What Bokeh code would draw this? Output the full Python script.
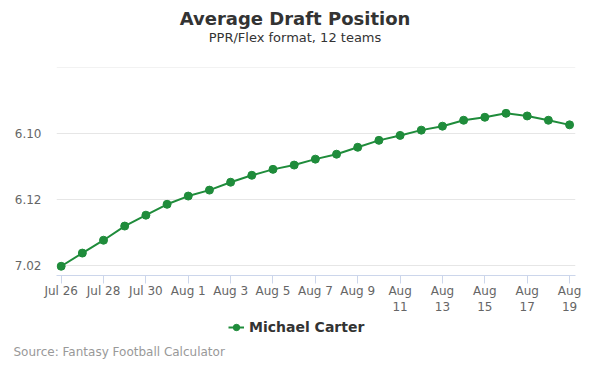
from bokeh.plotting import figure
from bokeh.models import (Range1d, FixedTicker, Label, Legend, LegendItem, ColumnDataSource, Title)
from bokeh.layouts import column
from bokeh.embed import file_html
from bokeh.resources import INLINE

# Data
dates = ["Jul 26", "Jul 27", "Jul 28", "Jul 29", "Jul 30", "Jul 31", "Aug 1", "Aug 2",
         "Aug 3", "Aug 4", "Aug 5", "Aug 6", "Aug 7", "Aug 8", "Aug 9", "Aug 10",
         "Aug 11", "Aug 12", "Aug 13", "Aug 14", "Aug 15", "Aug 16", "Aug 17", "Aug 18", "Aug 19"]
adp = [74.02, 73.62, 73.23, 72.80, 72.47, 72.14, 71.89, 71.71, 71.47, 71.26,
       71.08, 70.95, 70.77, 70.62, 70.41, 70.20, 70.05, 69.89, 69.77, 69.59,
       69.50, 69.38, 69.46, 69.59, 69.73]
x_tick_labels = ["Jul 26", "Jul 28", "Jul 30", "Aug 1", "Aug 3", "Aug 5", "Aug 7", "Aug 9",
                 "Aug\n11", "Aug\n13", "Aug\n15", "Aug\n17", "Aug\n19"]
y_ticks = [68, 70, 72, 74]
y_tick_labels = ["", "6.10", "6.12", "7.02"]
player = "Michael Carter"
title = "Average Draft Position"
subtitle = "PPR/Flex format, 12 teams"
source_note = "Source: Fantasy Football Calculator"

idx = list(range(len(dates)))
src = ColumnDataSource(dict(x=idx, y=adp, date=dates))

GREEN = "#1f8c3b"
W = 589
BL, BR = 56, 14          # left / right borders shared by all parts
FONT = "DejaVu Sans"


def blank(h, bottom=0):
    f = figure(width=W, height=h, output_backend="svg", toolbar_location=None,
               x_range=Range1d(BL, W - BR), y_range=Range1d(0, h - bottom),
               x_axis_type=None, y_axis_type=None,
               min_border_left=BL, min_border_right=BR, min_border_top=0,
               min_border_bottom=bottom)
    f.outline_line_color = None
    f.grid.visible = False
    f.background_fill_color = "white"
    f.border_fill_color = "white"
    return f


# ---- header ----
HH = 67
head = blank(HH)
head.add_layout(Label(x=294.5, y=49, text=title, text_align="center", text_baseline="middle",
                      text_font=FONT, text_font_size="18px", text_font_style="bold",
                      text_color="#333333"))
head.add_layout(Label(x=294.5, y=30.5, text=subtitle, text_align="center", text_baseline="middle",
                      text_font=FONT, text_font_size="13px", text_color="#333333"))

# ---- main chart ----
p = figure(width=W, height=252, output_backend="svg", toolbar_location=None,
           x_range=Range1d(-0.22, 24.28), y_range=Range1d(74.30, 67.99),
           min_border_left=BL, min_border_right=BR, min_border_top=0, min_border_bottom=44)
p.outline_line_color = None
p.background_fill_color = "white"
p.border_fill_color = "white"

p.xgrid.visible = False
p.ygrid.grid_line_color = "#e6e6e6"
p.ygrid.grid_line_width = 1

p.yaxis.ticker = FixedTicker(ticks=y_ticks)
p.yaxis.major_label_overrides = {t: l for t, l in zip(y_ticks, y_tick_labels)}
p.yaxis.axis_line_color = None
p.yaxis.major_tick_line_color = None
p.yaxis.minor_tick_line_color = None
p.yaxis.major_tick_out = 0
p.yaxis.major_label_standoff = 15
p.yaxis.major_label_text_font = FONT
p.yaxis.major_label_text_font_size = "12px"
p.yaxis.major_label_text_color = "#666666"

xt = [i for i in idx if i % 2 == 0]
p.xaxis.ticker = FixedTicker(ticks=xt)
p.xaxis.major_label_overrides = {t: l for t, l in zip(xt, x_tick_labels)}
p.xaxis.axis_line_color = "#ccd6eb"
p.xaxis.major_tick_line_color = "#ccd6eb"
p.xaxis.minor_tick_line_color = None
p.xaxis.major_tick_out = 8
p.xaxis.major_tick_in = 0
p.xaxis.major_label_standoff = 0
p.xaxis.major_label_text_font = FONT
p.xaxis.major_label_text_font_size = "12px"
p.xaxis.major_label_text_color = "#666666"

p.line("x", "y", source=src, line_color=GREEN, line_width=2)
p.scatter("x", "y", source=src, size=8, fill_color=GREEN, line_color=GREEN)

# ---- footer: legend + source ----
FH = 49
foot = blank(FH, bottom=34)
# same series, drawn here only as the legend's key (its points fall outside this strip's range)
llr = foot.line("x", "y", source=src, line_color=GREEN, line_width=2)
lcr = foot.scatter("x", "y", source=src, size=8, fill_color=GREEN, line_color=GREEN)
legend = Legend(items=[LegendItem(label=player, renderers=[llr, lcr])],
                location=(172, -1), orientation="horizontal",
                border_line_color=None, background_fill_alpha=0,
                padding=0, margin=0, spacing=0,
                glyph_width=16, glyph_height=16, label_height=16, label_standoff=5,
                label_text_font=FONT, label_text_font_size="14px",
                label_text_font_style="bold", label_text_color="#333333")
foot.add_layout(legend)
foot.add_layout(Title(text=source_note, align="left", offset=-43, standoff=18,
                      vertical_align="middle",
                      text_font=FONT, text_font_size="12px", text_font_style="normal",
                      text_color="#999999"), "below")

layout = column(head, p, foot, spacing=0)
open("out.html", "w").write(file_html(layout, INLINE))
